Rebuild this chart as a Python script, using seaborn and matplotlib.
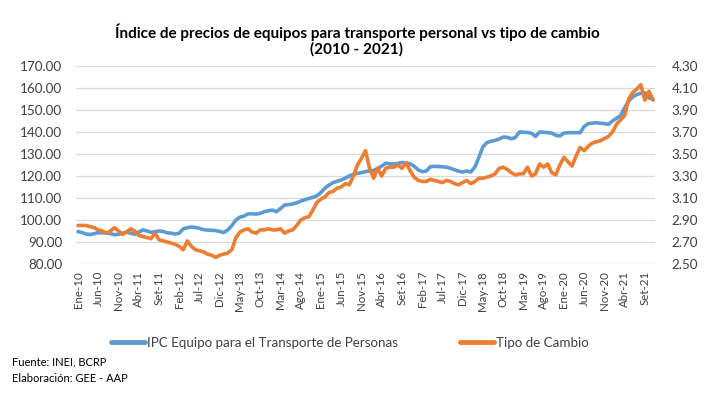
import numpy as np
import pandas as pd
import matplotlib
matplotlib.use("Agg")
import matplotlib.pyplot as plt
from matplotlib.ticker import FormatStrFormatter
from matplotlib.lines import Line2D
import seaborn as sns

# --- datos (mensual, Ene-2010 a Nov-2021) ---
meses = ["Ene", "Feb", "Mar", "Abr", "May", "Jun", "Jul", "Ago", "Set", "Oct", "Nov", "Dic"]
anios = list(range(10, 22))
etiquetas = [f"{m}-{a}" for a in anios for m in meses][:143]

ipc = [
    94.7, 94.3, 93.6, 93.4, 93.8, 94.2, 94.2, 94.1, 93.8, 93.3, 93.5, 93.9,
    94.6, 94.0, 93.5, 94.5, 95.5, 95.0, 94.4, 94.6, 95.0, 94.8, 94.2, 94.0,
    93.6, 94.0, 96.0, 96.5, 96.8, 96.6, 96.2, 95.6, 95.4, 95.3, 95.2, 94.8,
    94.3, 95.5, 97.5, 100.0, 101.3, 101.8, 102.8, 102.8, 102.7, 103.0, 103.8, 104.2,
    104.5, 103.8, 105.2, 106.8, 107.0, 107.3, 107.8, 108.6, 109.2, 109.8, 110.3, 111.0,
    112.5, 114.5, 115.9, 117.0, 117.6, 118.2, 119.0, 120.0, 120.8, 121.2, 121.5, 122.0,
    122.3, 122.5, 123.5, 124.5, 125.8, 125.5, 125.5, 125.7, 126.1, 126.0, 125.5, 124.5,
    122.8, 122.0, 122.2, 124.2, 124.4, 124.3, 124.2, 124.0, 123.5, 122.8, 122.2, 121.8,
    122.3, 121.8, 124.0, 128.5, 133.3, 135.2, 135.8, 136.2, 136.8, 137.7, 137.6, 136.9,
    137.5, 140.0, 139.9, 139.8, 139.4, 138.0, 140.0, 139.9, 139.7, 139.5, 138.5, 138.2,
    139.5, 139.7, 139.7, 139.7, 139.7, 142.5, 143.8, 144.0, 144.2, 144.0, 143.8, 143.5,
    145.0, 146.2, 147.5, 151.0, 154.0, 156.0, 157.0, 157.6, 157.8, 155.5, 155.0,
]

tipo_cambio = [
    2.85, 2.85, 2.85, 2.84, 2.83, 2.81, 2.80, 2.78, 2.80, 2.83, 2.80, 2.77,
    2.79, 2.82, 2.80, 2.76, 2.75, 2.74, 2.73, 2.78, 2.72, 2.71, 2.70, 2.69,
    2.68, 2.66, 2.63, 2.71, 2.66, 2.63, 2.62, 2.61, 2.59, 2.58, 2.56, 2.58,
    2.59, 2.60, 2.63, 2.74, 2.79, 2.81, 2.82, 2.79, 2.78, 2.81, 2.81, 2.82,
    2.81, 2.81, 2.82, 2.78, 2.80, 2.81, 2.85, 2.90, 2.92, 2.93, 2.99, 3.06,
    3.09, 3.11, 3.15, 3.16, 3.19, 3.20, 3.23, 3.22, 3.30, 3.40, 3.46, 3.53,
    3.37, 3.28, 3.37, 3.30, 3.37, 3.38, 3.38, 3.40, 3.37, 3.42, 3.35, 3.29,
    3.26, 3.25, 3.25, 3.27, 3.26, 3.25, 3.24, 3.26, 3.25, 3.23, 3.22, 3.24,
    3.26, 3.23, 3.25, 3.28, 3.28, 3.29, 3.30, 3.32, 3.37, 3.38, 3.36, 3.33,
    3.31, 3.32, 3.32, 3.38, 3.30, 3.32, 3.41, 3.38, 3.41, 3.33, 3.31, 3.40,
    3.47, 3.43, 3.39, 3.48, 3.56, 3.53, 3.57, 3.60, 3.61, 3.62, 3.64, 3.66,
    3.70, 3.77, 3.81, 3.85, 4.00, 4.06, 4.09, 4.13, 3.99, 4.07, 3.99,
]

df = pd.DataFrame({"pos": range(len(ipc)), "ipc": ipc, "tc": tipo_cambio})

azul = "#5B9BD5"
naranja = "#ED7D31"

sns.set_style("white")
plt.rcParams["font.family"] = ["Lato", "DejaVu Sans"]

fig = plt.figure(figsize=(7.13, 3.94), dpi=100)
ax = fig.add_axes([76 / 713, 1 - 264 / 394, 579 / 713, 198 / 394])
ax2 = ax.twinx()

sns.lineplot(data=df, x="pos", y="ipc", ax=ax, color=azul, linewidth=2.6, zorder=3)
sns.lineplot(data=df, x="pos", y="tc", ax=ax2, color=naranja, linewidth=2.6, zorder=3)

ax.set_xlim(-0.5, len(ipc) - 0.5)
ax.set_ylim(80, 170)
ax.set_yticks(np.arange(80, 171, 10))
ax2.set_ylim(2.5, 4.3)
ax2.set_yticks(np.arange(2.5, 4.31, 0.2))
ax.yaxis.set_major_formatter(FormatStrFormatter("%.2f"))
ax2.yaxis.set_major_formatter(FormatStrFormatter("%.2f"))

ticks = list(range(0, len(ipc), 5))
ax.set_xticks(ticks)
ax.set_xticklabels([etiquetas[i] for i in ticks], rotation=90, fontsize=8.3, color="#404040")
ax.tick_params(axis="x", length=0, pad=5)
ax.tick_params(axis="y", length=0, pad=10, labelsize=9.7, labelcolor="#404040")
ax2.tick_params(axis="y", length=0, pad=12, labelsize=9.7, labelcolor="#404040")

ax.grid(axis="y", color="#D9D9D9", linewidth=0.9)
ax.set_axisbelow(True)
ax.set_xlabel("")
ax.set_ylabel("")
ax2.set_ylabel("")
for a in (ax, ax2):
    for s in a.spines.values():
        s.set_visible(False)

fig.text(357 / 713, 1 - 40 / 394,
         "Índice de precios de equipos para transporte personal vs tipo de cambio\n(2010 - 2021)",
         ha="center", va="center", fontsize=11, fontweight="bold", color="black", linespacing=1.15)

handles = [Line2D([], [], color=azul, linewidth=3.5),
           Line2D([], [], color=naranja, linewidth=3.5)]
fig.legend(handles, ["IPC Equipo para el Transporte de Personas", "Tipo de Cambio"],
           loc="center", bbox_to_anchor=(350 / 713, 1 - 343 / 394), ncol=2, frameon=False,
           fontsize=9.6, handlelength=2.6, handletextpad=0.15, columnspacing=4.6,
           labelcolor="#404040")

fig.text(12 / 713, 1 - 362 / 394, "Fuente: INEI, BCRP", fontsize=8, va="center", color="black")
fig.text(12 / 713, 1 - 379 / 394, "Elaboración: GEE - AAP", fontsize=8, va="center", color="black")

fig.savefig("out.png", dpi=100)
